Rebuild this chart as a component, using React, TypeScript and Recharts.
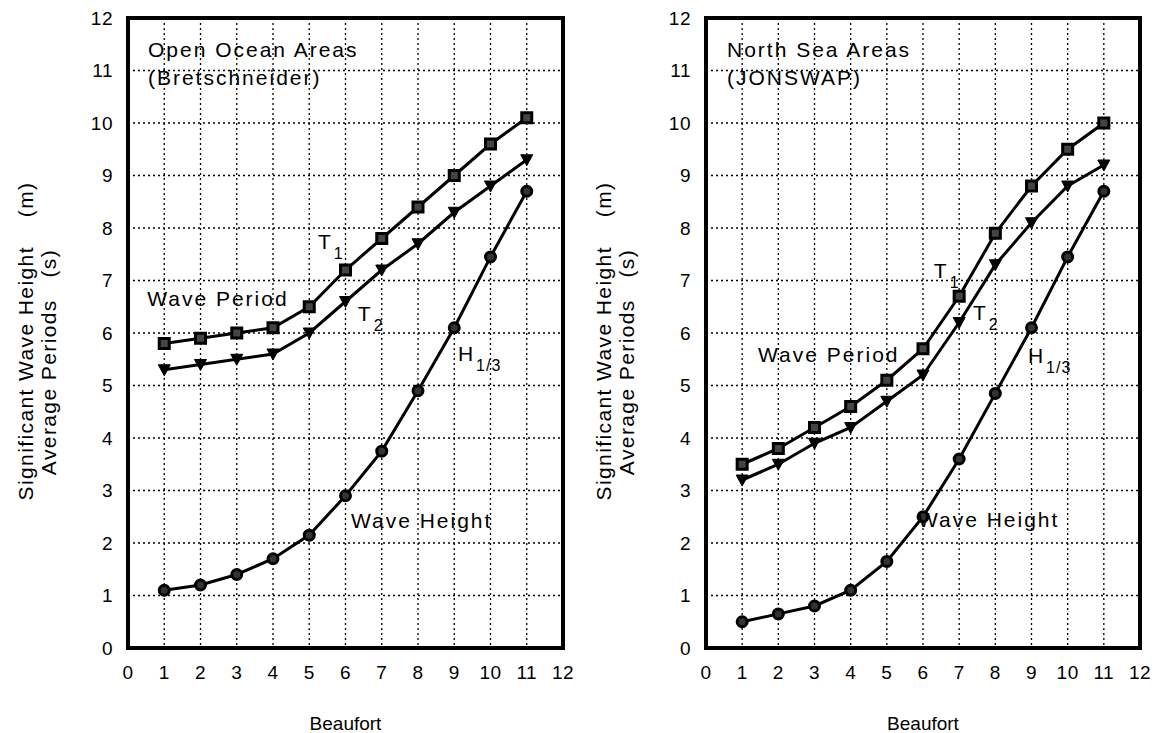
import { LineChart, Line, XAxis, YAxis, CartesianGrid, ReferenceArea, ReferenceDot } from "recharts";

const beaufort = [1, 2, 3, 4, 5, 6, 7, 8, 9, 10, 11];
const ticks = [0, 1, 2, 3, 4, 5, 6, 7, 8, 9, 10, 11, 12];

const oceanT1 = [5.8, 5.9, 6.0, 6.1, 6.5, 7.2, 7.8, 8.4, 9.0, 9.6, 10.1];
const oceanT2 = [5.3, 5.4, 5.5, 5.6, 6.0, 6.6, 7.2, 7.7, 8.3, 8.8, 9.3];
const oceanH = [1.1, 1.2, 1.4, 1.7, 2.15, 2.9, 3.75, 4.9, 6.1, 7.45, 8.7];

const northT1 = [3.5, 3.8, 4.2, 4.6, 5.1, 5.7, 6.7, 7.9, 8.8, 9.5, 10.0];
const northT2 = [3.2, 3.5, 3.9, 4.2, 4.7, 5.2, 6.2, 7.3, 8.1, 8.8, 9.2];
const northH = [0.5, 0.65, 0.8, 1.1, 1.65, 2.5, 3.6, 4.85, 6.1, 7.45, 8.7];

// non-breaking spaces keep the wide gap before the units
const yLabelLines = ["Significant Wave Height\u00A0\u00A0\u00A0\u00A0(m)", "Average Periods\u00A0\u00A0\u00A0(s)"];

interface Note {
  x: number;
  y: number;
  text: string;
  sub?: string;
}

const oceanNotes: Note[] = [
  { x: 0.55, y: 11.26, text: "Open Ocean Areas" },
  { x: 0.55, y: 10.72, text: "(Bretschneider)" },
  { x: 5.24, y: 7.6, text: "T", sub: "1" },
  { x: 0.53, y: 6.52, text: "Wave Period" },
  { x: 6.34, y: 6.23, text: "T", sub: "2" },
  { x: 9.1, y: 5.47, text: "H", sub: "1/3" },
  { x: 6.15, y: 2.29, text: "Wave Height" },
];

const northNotes: Note[] = [
  { x: 0.58, y: 11.26, text: "North Sea Areas" },
  { x: 0.58, y: 10.72, text: "(JONSWAP)" },
  { x: 6.3, y: 7.05, text: "T", sub: "1" },
  { x: 7.38, y: 6.25, text: "T", sub: "2" },
  { x: 1.44, y: 5.45, text: "Wave Period" },
  { x: 8.9, y: 5.43, text: "H", sub: "1/3" },
  { x: 5.86, y: 2.3, text: "Wave Height" },
];

const font = "'Liberation Sans', Arial, sans-serif";

function SquareDot(props: any) {
  const { cx, cy, index } = props;
  return <rect key={`s${index}`} x={cx - 5} y={cy - 5} width={10} height={10} fill="#444" stroke="#000" strokeWidth={3} />;
}

function TriangleDot(props: any) {
  const { cx, cy, index } = props;
  return <path key={`t${index}`} d={`M${cx - 6},${cy - 5} L${cx + 6},${cy - 5} L${cx},${cy + 6} Z`} fill="#000" stroke="#000" strokeWidth={1} />;
}

function CircleDot(props: any) {
  const { cx, cy, index } = props;
  return <circle key={`c${index}`} cx={cx} cy={cy} r={5} fill="#333" stroke="#000" strokeWidth={3} />;
}

function noteLabel(note: Note) {
  return (props: any) => {
    const vb = props.viewBox || {};
    const x = vb.x + (vb.width || 0) / 2;
    const y = vb.y + (vb.height || 0) / 2;
    return (
      <text x={x} y={y} fontFamily={font} fontSize={21} letterSpacing={2} fill="#000" textAnchor="start">
        {note.text}
        {note.sub && (
          <tspan fontSize={16} letterSpacing={1} dx={1} dy={10}>
            {note.sub}
          </tspan>
        )}
      </text>
    );
  };
}

interface PanelProps {
  t1: number[];
  t2: number[];
  h: number[];
  notes: Note[];
  left: number;
  width: number;
  marginLeft: number;
  marginRight: number;
}

function Panel({ t1, t2, h, notes, left, width, marginLeft, marginRight }: PanelProps) {
  const data = beaufort.map((b, i) => ({ b, t1: t1[i], t2: t2[i], h: h[i] }));
  return (
    <div style={{ position: "absolute", left, top: 0 }}>
      <LineChart width={width} height={733} data={data} margin={{ top: 18, right: marginRight, bottom: 0, left: marginLeft - 60 }}>
        <CartesianGrid stroke="#000" strokeDasharray="2 3" strokeWidth={1.3} />
        <XAxis
          dataKey="b"
          type="number"
          domain={[0, 12]}
          ticks={ticks}
          interval={0}
          height={85}
          axisLine={false}
          tickLine={false}
          tickMargin={12}
          tick={{ fontSize: 19, fill: "#000", fontFamily: font, letterSpacing: 0.5 }}
          label={{ value: "Beaufort", position: "insideBottom", offset: 3, fontSize: 19, fill: "#000", fontFamily: font }}
        />
        <YAxis
          type="number"
          domain={[0, 12]}
          ticks={ticks}
          interval={0}
          width={60}
          axisLine={false}
          tickLine={false}
          tickMargin={9}
          tick={{ fontSize: 19, fill: "#000", fontFamily: font, letterSpacing: 0.5 }}
        />
        <ReferenceArea x1={0} x2={12} y1={0} y2={12} fill="none" stroke="#000" strokeWidth={4} fillOpacity={0} />
        <Line dataKey="t1" stroke="#000" strokeWidth={3} dot={SquareDot} isAnimationActive={false} />
        <Line dataKey="t2" stroke="#000" strokeWidth={3} dot={TriangleDot} isAnimationActive={false} />
        <Line dataKey="h" stroke="#000" strokeWidth={3} dot={CircleDot} isAnimationActive={false} />
        {notes.map((n, i) => (
          <ReferenceDot key={i} x={n.x} y={n.y} r={0} fill="none" stroke="none" label={noteLabel(n)} />
        ))}
      </LineChart>
      <svg width={80} height={733} style={{ position: "absolute", left: 0, top: 0 }}>
        <g fontFamily={font} fontSize={21} letterSpacing={1.4} fill="#000">
          <text transform={`translate(${marginLeft - 95}, 341) rotate(-90)`} textAnchor="middle">
            {yLabelLines[0]}
          </text>
          <text transform={`translate(${marginLeft - 72}, 362) rotate(-90)`} textAnchor="middle">
            {yLabelLines[1]}
          </text>
        </g>
      </svg>
    </div>
  );
}

export default function App() {
  return (
    <div style={{ position: "absolute", left: 0, top: 0, width: 1158, height: 733, background: "#fff" }}>
      <Panel t1={oceanT1} t2={oceanT2} h={oceanH} notes={oceanNotes} left={0} width={580} marginLeft={128} marginRight={17} />
      <Panel t1={northT1} t2={northT2} h={northH} notes={northNotes} left={580} width={578} marginLeft={126} marginRight={18} />
    </div>
  );
}
